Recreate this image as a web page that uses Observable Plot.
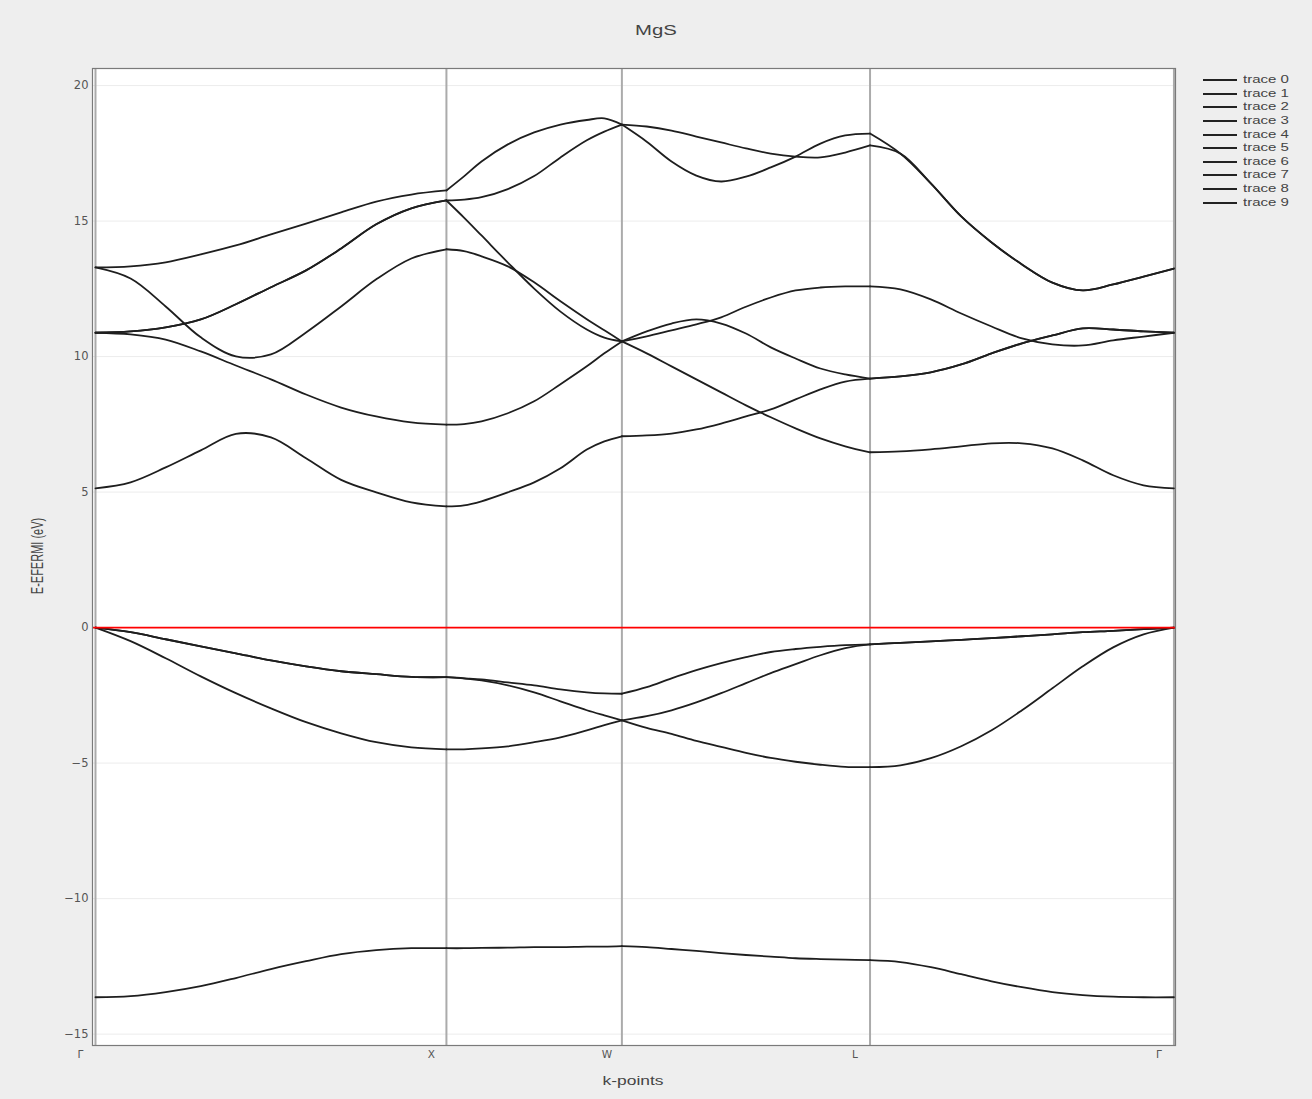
<!DOCTYPE html>
<html><head><meta charset="utf-8">
<script src="https://cdn.jsdelivr.net/npm/d3@7"></script>
<script src="https://cdn.jsdelivr.net/npm/@observablehq/plot@0.6"></script>
<style>
html,body{margin:0;padding:0;background:#eeeeee;}
#wrap{position:relative;width:1312px;height:1099px;background:#eeeeee;font-family:"Liberation Sans",Arial,sans-serif;color:#444;overflow:hidden;}
#wrap svg{position:absolute;left:0;top:0;}
.lbl{position:absolute;white-space:nowrap;line-height:1;}
.leg{position:absolute;left:1203px;display:flex;align-items:center;height:14px;}
.leg span.ln{display:inline-block;width:34px;height:2px;background:#222;margin-right:6px;}
.leg span.tx{display:inline-block;font-size:10px;line-height:14px;color:#444;transform:scaleX(1.5);transform-origin:0 50%;}
</style></head><body><div id="wrap"></div>
<script>
// ---- data ----
const title = "MgS";
const xLabel = "k-points";
const yLabel = "E-EFERMI (eV)";
const kLabels = ["Γ", "X", "W", "L", "Γ"];
const kTicks = [0, 1, 1.5, 2.2071, 3.0731];
const yTicks = [-15, -10, -5, 0, 5, 10, 15, 20];
const traceNames = ["trace 0","trace 1","trace 2","trace 3","trace 4","trace 5","trace 6","trace 7","trace 8","trace 9"];
// sample positions (fraction along each path segment Γ-X, X-W, W-L, L-Γ)
const tGX = [0, .1, .2, .3, .4, .5, .6, .7, .8, .9, 1];
const tXW = [0, .1, .2, .35, .5, .65, .8, .9, 1];
const tWL = [0, .1, .2, .3, .4, .5, .6, .7, .8, .9, 1];
const tLG = [0, .1, .2, .3, .4, .5, .6, .7, .8, .9, 1];
// band energies (eV) along the path
const band0 = [-13.64,-13.60,-13.45,-13.23,-12.93,-12.60,-12.31,-12.05,-11.90,-11.83,-11.83, -11.83,-11.82,-11.81,-11.79,-11.79,-11.77,-11.77,-11.75, -11.79,-11.86,-11.93,-12.01,-12.08,-12.14,-12.20,-12.23,-12.25,-12.27, -12.34,-12.53,-12.79,-13.05,-13.27,-13.45,-13.56,-13.62,-13.64,-13.64];
const band1 = [0,-0.50,-1.13,-1.80,-2.42,-2.98,-3.49,-3.90,-4.23,-4.42,-4.49, -4.49,-4.46,-4.38,-4.23,-4.05,-3.79,-3.60,-3.42, -3.70,-3.92,-4.18,-4.40,-4.62,-4.81,-4.95,-5.06,-5.14,-5.15, -5.08,-4.82,-4.38,-3.79,-3.05,-2.24,-1.43,-0.73,-0.25,0];
const band2 = [0,-0.17,-0.43,-0.69,-0.95,-1.21,-1.43,-1.61,-1.72,-1.82,-1.83, -1.87,-1.95,-2.13,-2.39,-2.72,-3.05,-3.24,-3.42, -3.27,-3.05,-2.76,-2.42,-2.05,-1.68,-1.35,-1.02,-0.76,-0.62, -0.56,-0.51,-0.45,-0.39,-0.32,-0.25,-0.17,-0.12,-0.06,0];
const band3 = [0,-0.17,-0.43,-0.69,-0.95,-1.21,-1.43,-1.61,-1.72,-1.82,-1.83, -1.87,-1.91,-2.02,-2.13,-2.28,-2.39,-2.43,-2.44, -2.20,-1.87,-1.57,-1.31,-1.09,-0.90,-0.79,-0.71,-0.65,-0.62, -0.56,-0.51,-0.45,-0.39,-0.32,-0.25,-0.17,-0.12,-0.06,0];
const band4 = [5.14,5.36,5.91,6.54,7.15,7.02,6.25,5.45,4.99,4.62,4.47, 4.51,4.66,4.99,5.36,5.88,6.57,6.87,7.06, 7.09,7.16,7.31,7.53,7.79,8.05,8.42,8.79,9.08,9.19, 9.27,9.42,9.71,10.12,10.49,10.78,11.04,11.00,10.93,10.88];
const band5 = [10.88,10.82,10.63,10.19,9.67,9.16,8.60,8.12,7.79,7.57,7.49, 7.51,7.61,7.91,8.35,8.98,9.64,10.12,10.56, 10.12,9.64,9.16,8.68,8.20,7.76,7.35,6.98,6.69,6.47, 6.50,6.58,6.69,6.80,6.80,6.61,6.17,5.62,5.25,5.14];
const band6 = [10.88,10.93,11.08,11.37,11.93,12.56,13.18,13.99,14.88,15.47,15.76, 15.13,14.47,13.47,12.51,11.66,11.00,10.70,10.56, 10.93,11.22,11.37,11.22,10.85,10.34,9.93,9.56,9.34,9.19, 9.27,9.42,9.71,10.12,10.49,10.78,11.04,11.00,10.93,10.88];
const band7 = [10.88,10.93,11.08,11.37,11.93,12.56,13.18,13.99,14.88,15.47,15.76, 15.79,15.88,16.18,16.66,17.35,17.98,18.30,18.56, 17.93,17.20,16.68,16.46,16.64,16.98,17.38,17.86,18.16,18.23, 17.49,16.39,15.17,14.21,13.40,12.73,12.44,12.66,12.95,13.25];
const band8 = [13.29,12.88,11.85,10.71,10.01,10.08,10.89,11.85,12.85,13.62,13.96, 13.89,13.70,13.33,12.74,12.04,11.38,10.97,10.56, 10.75,10.97,11.19,11.45,11.84,12.18,12.44,12.55,12.59,12.59, 12.48,12.11,11.59,11.11,10.67,10.45,10.41,10.60,10.74,10.88];
const band9 = [13.29,13.33,13.48,13.77,14.10,14.51,14.91,15.32,15.72,15.98,16.13, 16.65,17.20,17.83,18.27,18.56,18.73,18.79,18.56, 18.49,18.34,18.12,17.90,17.68,17.49,17.38,17.35,17.53,17.79, 17.49,16.39,15.17,14.21,13.40,12.73,12.44,12.66,12.95,13.25];
const bands = [band0, band1, band2, band3, band4, band5, band6, band7, band8, band9];

// ---- build path table ----
const segT = [tGX, tXW, tWL, tLG];
const kPath = [], segStart = [];
segT.forEach((ts, s) => {
  segStart.push(kPath.length === 0 ? 0 : kPath.length - 1);
  ts.forEach((t, j) => {
    if (s > 0 && j === 0) return;
    kPath.push(kTicks[s] + t * (kTicks[s + 1] - kTicks[s]));
  });
});
segStart.push(kPath.length - 1);
const rows = [];
bands.forEach((vals, b) => {
  for (let s = 0; s < 4; s++) {
    for (let i = segStart[s]; i <= segStart[s + 1]; i++) {
      rows.push({seg: b + "-" + s, k: kPath[i], e: vals[i]});
    }
  }
});

const fmtY = d => d < 0 ? "\u2212" + Math.abs(d) : String(d);
const tickFont = "'DejaVu Sans', Verdana, sans-serif";

const chart = Plot.plot({
  width: 1312, height: 1099,
  marginLeft: 92, marginRight: 137, marginTop: 68, marginBottom: 54,
  style: {background: "transparent", fontFamily: "'Liberation Sans', Arial, sans-serif", overflow: "visible"},
  x: {domain: [-0.0085, 3.0775], axis: null},
  y: {domain: [-15.42, 20.63], axis: null},
  marks: [
    Plot.frame({fill: "white"}),
    Plot.ruleY(yTicks, {y: d => d, stroke: "#ececec", strokeWidth: 1}),
    Plot.ruleX(kTicks, {x: d => d, stroke: "#ababab", strokeWidth: 2}),
    Plot.line(rows, {x: "k", y: "e", z: "seg", stroke: "#1e1e1e", strokeWidth: 1.8, curve: "catmull-rom"}),
    Plot.ruleY([0], {y: d => d, stroke: "#ff0000", strokeWidth: 1.6}),
    Plot.frame({stroke: "#7a7a7a", strokeWidth: 1.2}),
    Plot.text(yTicks, {y: d => d, text: fmtY, frameAnchor: "left", textAnchor: "end", dx: -4,
      fontSize: 11.5, fill: "#555", fontFamily: tickFont}),
    Plot.text(kTicks, {x: d => d, text: (d, i) => kLabels[i], frameAnchor: "bottom", lineAnchor: "top",
      dy: 5, dx: -15, fontSize: 10.5, fill: "#555", fontFamily: tickFont})
  ]
});
const wrap = document.getElementById("wrap");
wrap.appendChild(chart);

function addLabel(text, css) {
  const d = document.createElement("div");
  d.className = "lbl";
  d.textContent = text;
  Object.assign(d.style, css);
  wrap.appendChild(d);
  return d;
}
addLabel(title, {left: "656px", top: "23px", fontSize: "14px", transform: "translateX(-50%) scaleX(1.45)"});
addLabel(xLabel, {left: "633px", top: "1075px", fontSize: "12px", transform: "translateX(-50%) scaleX(1.45)"});
addLabel(yLabel, {left: "38px", top: "556px", fontSize: "11px", transform: "translate(-50%,-50%) rotate(-90deg) scaleY(1.45)"});

traceNames.forEach((name, i) => {
  const r = document.createElement("div");
  r.className = "leg";
  r.style.top = (80 + i * 13.63 - 7) + "px";
  r.innerHTML = '<span class="ln"></span><span class="tx"></span>';
  r.querySelector(".tx").textContent = name;
  wrap.appendChild(r);
});
</script></body></html>
